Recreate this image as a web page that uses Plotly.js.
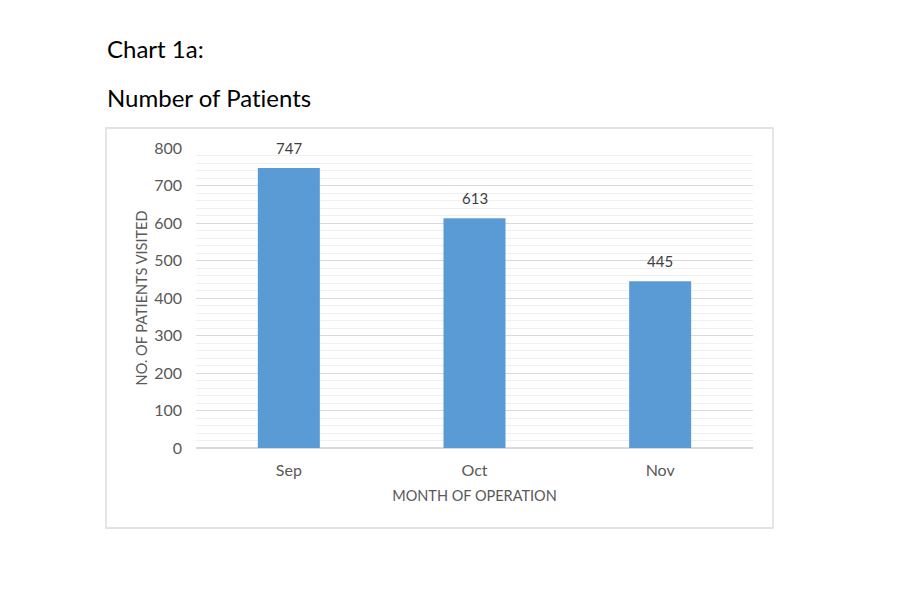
<!DOCTYPE html>
<html>
<head>
<meta charset="utf-8">
<script src="https://cdn.plot.ly/plotly-3.0.1.min.js"></script>
<style>
  html, body { margin: 0; padding: 0; background: #fff; }
  svg text { font-variant-ligatures: none; font-feature-settings: "liga" 0, "clig" 0; }
</style>
</head>
<body>
<div id="chart" style="width:912px;height:591px;"></div>
<script>
var months = ['Sep', 'Oct', 'Nov'];
var patients = [747, 613, 445];
var yTicks = [0, 100, 200, 300, 400, 500, 600, 700, 800];

var FONT = 'Lato, "Open Sans", sans-serif';
var GREY = '#595959';

var bars = {
	type: 'bar',
	x: months,
	y: patients,
	marker: { color: '#5b9bd5' },
	hoverinfo: 'x+y'
};

// value labels above each bar
var labels = months.map(function (m, i) {
	return {
		x: m, y: patients[i], xref: 'x', yref: 'y',
		text: String(patients[i]),
		showarrow: false, yanchor: 'bottom', yshift: 9,
		font: { family: FONT, size: 15, color: '#404040' }
	};
});

var layout = {
	width: 912,
	height: 591,
	margin: { l: 196, r: 159, t: 148, b: 143 },
	paper_bgcolor: '#fff',
	plot_bgcolor: '#fff',
	showlegend: false,
	bargap: 0.666,
	font: { family: FONT, color: GREY },
	xaxis: {
		type: 'category',
		showgrid: false,
		showline: false,
		ticks: '',
		tickfont: { family: FONT, size: 16, color: GREY },
		ticklabelstandoff: 11,
		title: { text: 'MONTH OF OPERATION', font: { family: FONT, size: 14.5, color: GREY }, standoff: 12 }
	},
	yaxis: {
		range: [0, 800],
		tickvals: yTicks,
		showgrid: true,
		gridcolor: '#d9d9d9',
		gridwidth: 1,
		zeroline: true,
		zerolinecolor: '#d9d9d9',
		zerolinewidth: 2.5,
		minor: { dtick: 20, showgrid: true, gridcolor: '#f0f0f0', gridwidth: 1, ticks: '' },
		ticks: '',
		tickfont: { family: FONT, size: 16, color: GREY },
		ticklabelstandoff: 13,
		title: { text: 'NO. OF PATIENTS VISITED', font: { family: FONT, size: 14.5, color: GREY }, standoff: 3 }
	},
	shapes: [{
		type: 'rect', xref: 'paper', yref: 'paper',
		x0: -0.1616, x1: 1.0359, y0: -0.2667, y1: 1.0667,
		line: { color: '#d9d9d9', width: 1.3 },
		fillcolor: 'rgba(0,0,0,0)',
		layer: 'below'
	}],
	annotations: labels.concat([
		{ text: 'Chart 1a:', xref: 'paper', yref: 'paper', x: -0.1634, y: 1.333,
		  xanchor: 'left', yanchor: 'middle', showarrow: false,
		  font: { family: FONT, size: 24, color: '#000' } },
		{ text: 'Number of Patients', xref: 'paper', yref: 'paper', x: -0.1634, y: 1.17,
		  xanchor: 'left', yanchor: 'middle', showarrow: false,
		  font: { family: FONT, size: 24, color: '#000' } }
	])
};

Plotly.newPlot('chart', [bars], layout, { displayModeBar: false, staticPlot: true });
</script>
</body>
</html>
